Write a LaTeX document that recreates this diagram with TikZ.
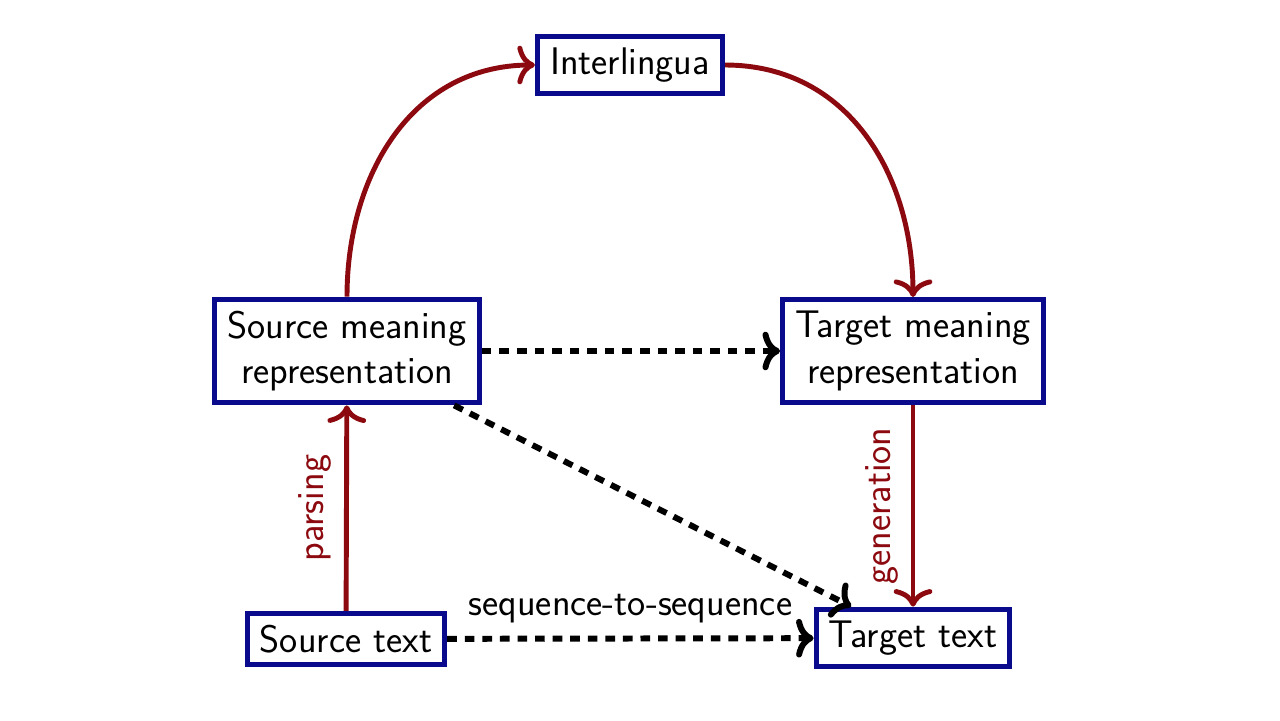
\documentclass[tikz,border=0pt]{standalone}
\usepackage{fontspec}
\usepackage{tikz}
\usetikzlibrary{arrows.meta, positioning}
\definecolor{boxblue}{RGB}{10,10,140}
\definecolor{arrred}{RGB}{140,10,15}

\begin{document}
\begin{tikzpicture}[
    x=0.02cm, y=-0.02cm,
    >={To[length=10pt,width=22pt]},
    box/.style={draw=boxblue, line width=3pt, fill=white, align=center,
                font=\sffamily\fontsize{21.9}{26}\selectfont,
                inner xsep=0.25cm, inner ysep=0.23cm},
    lbl/.style={font=\sffamily\fontsize{21.9}{26}\selectfont, inner ysep=7pt},
    redarr/.style={->, draw=arrred, line width=2.8pt},
    dasharr/.style={->, line width=3.4pt, dash pattern=on 5.5pt off 4.5pt}
  ]
  \useasboundingbox (0,0) rectangle (1280,720);
  \node[box] (inter)  at (630,65)  {Interlingua};
  \node[box] (srcmr)  at (347,351) {Source meaning\\representation};
  \node[box] (tgtmr)  at (913,351) {Target meaning\\representation};
  \node[box] (srctxt) at (346,639) {Source text};
  \node[box] (tgttxt) at (913,638) {Target text};

  \draw[redarr] (srctxt) -- node[lbl, midway, rotate=90, anchor=south, text=arrred] {parsing} (srcmr);
  \draw[redarr] (srcmr.north) to[out=90, in=180, looseness=1.05] (inter.west);
  \draw[redarr] (inter.east) to[out=0, in=90, looseness=1.05] (tgtmr.north);
  \draw[redarr] (tgtmr) -- node[lbl, midway, rotate=90, anchor=south, text=arrred] {generation} (tgttxt);

  \draw[dasharr] (srcmr) -- (tgtmr);
  \draw[dasharr] (srcmr) -- (tgttxt);
  \draw[dasharr] (srctxt) -- node[lbl, midway, above] {sequence-to-sequence} (tgttxt);
\end{tikzpicture}
\end{document}
